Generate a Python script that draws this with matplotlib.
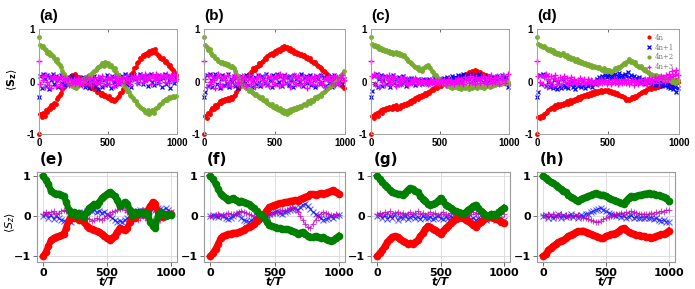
import numpy as np
import matplotlib.pyplot as plt

# time axes
t_top = list(range(0, 1000, 10))
t_bot = list(range(0, 1001, 20))

# ---------------- top row (a)-(d) ----------------
red_a = [-1.0, -0.62, -0.68, -0.6, -0.65, -0.55, -0.58, -0.5, -0.52, -0.45,
         -0.48, -0.4, -0.42, -0.33, -0.3, -0.25, -0.22, -0.15, -0.1, -0.05,
         0.0, 0.05, 0.02, 0.1, 0.12, 0.08, 0.14, 0.1, 0.05, 0.08,
         0.02, 0.04, -0.02, 0.0, -0.05, -0.03, -0.08, -0.06, -0.12, -0.1,
         -0.15, -0.13, -0.2, -0.18, -0.22, -0.25, -0.22, -0.28, -0.26, -0.3,
         -0.32, -0.28, -0.35, -0.33, -0.38, -0.36, -0.33, -0.3, -0.27, -0.22,
         -0.2, -0.15, -0.12, -0.05, -0.02, 0.05, 0.08, 0.15, 0.18, 0.25,
         0.28, 0.35, 0.38, 0.45, 0.42, 0.5, 0.48, 0.52, 0.55, 0.5,
         0.58, 0.55, 0.6, 0.56, 0.62, 0.55, 0.5, 0.48, 0.45, 0.42,
         0.45, 0.38, 0.4, 0.35, 0.3, 0.32, 0.25, 0.22, 0.18, 0.12]
green_a = [0.85, 0.7, 0.65, 0.68, 0.62, 0.6, 0.55, 0.57, 0.5, 0.52,
           0.48, 0.45, 0.4, 0.42, 0.35, 0.32, 0.28, 0.2, 0.15, 0.1,
           0.05, 0.0, -0.05, -0.02, -0.08, -0.1, -0.06, -0.12, -0.08, -0.05,
           -0.02, 0.0, 0.04, 0.02, 0.08, 0.06, 0.12, 0.1, 0.15, 0.18,
           0.2, 0.22, 0.25, 0.28, 0.3, 0.32, 0.35, 0.3, 0.38, 0.33,
           0.35, 0.3, 0.32, 0.28, 0.22, 0.25, 0.18, 0.12, 0.08, 0.02,
           0.0, -0.05, -0.1, -0.12, -0.18, -0.2, -0.25, -0.28, -0.32, -0.35,
           -0.38, -0.42, -0.45, -0.48, -0.5, -0.52, -0.55, -0.58, -0.6, -0.55,
           -0.62, -0.58, -0.55, -0.6, -0.52, -0.5, -0.48, -0.45, -0.42, -0.4,
           -0.38, -0.35, -0.33, -0.36, -0.3, -0.32, -0.3, -0.28, -0.3, -0.27]
blue_a = [-0.3, 0.1, -0.12, 0.15, 0.05, -0.08, 0.12, -0.15, 0.08, 0.02,
          0.14, -0.05, 0.1, 0.03, -0.1, 0.06, 0.12, -0.02, 0.04, -0.06,
          0.08, 0.0, -0.04, 0.05, 0.1, -0.08, 0.02, 0.07, -0.03, 0.04,
          -0.06, 0.03, 0.08, -0.1, 0.05, 0.0, -0.12, 0.06, 0.02, -0.05,
          0.1, -0.08, 0.03, -0.14, 0.05, 0.08, -0.1, 0.02, -0.06, 0.12,
          -0.04, 0.06, -0.12, 0.1, 0.0, -0.08, 0.04, 0.12, -0.05, 0.08,
          0.1, -0.02, 0.14, 0.05, -0.06, 0.1, 0.02, -0.1, 0.06, 0.12,
          0.04, 0.08, -0.03, 0.15, 0.06, -0.05, 0.1, 0.02, 0.12, -0.08,
          0.05, 0.14, 0.0, -0.06, 0.1, 0.08, -0.02, 0.12, 0.04, -0.1,
          0.06, 0.15, -0.04, 0.1, 0.02, -0.12, 0.08, 0.13, -0.02, 0.05]
mag_a = [0.4, -0.05, 0.1, 0.02, -0.1, 0.12, 0.0, -0.06, 0.08, -0.12,
         0.05, 0.1, -0.08, 0.03, 0.06, -0.04, 0.1, -0.1, 0.02, 0.07,
         -0.03, 0.05, -0.06, 0.02, -0.02, 0.04, -0.05, 0.0, 0.06, -0.04,
         0.03, -0.07, 0.02, 0.05, -0.03, 0.08, -0.02, 0.04, -0.06, 0.01,
         0.06, 0.0, -0.05, 0.08, -0.02, 0.04, 0.1, -0.06, 0.05, 0.02,
         0.08, -0.04, 0.06, 0.02, -0.08, 0.1, 0.03, -0.02, 0.07, 0.0,
         0.05, 0.09, -0.03, 0.06, 0.12, 0.02, -0.05, 0.08, 0.04, 0.1,
         0.06, -0.02, 0.1, 0.04, 0.12, 0.0, 0.08, 0.14, 0.03, 0.06,
         0.1, -0.04, 0.12, 0.06, 0.02, 0.15, 0.05, -0.03, 0.1, 0.08,
         0.12, 0.0, 0.08, 0.14, -0.02, 0.06, 0.1, 0.03, 0.15, 0.05]

red_b = [-1.0, -0.65, -0.7, -0.6, -0.62, -0.55, -0.5, -0.52, -0.45, -0.48,
         -0.42, -0.38, -0.4, -0.35, -0.38, -0.33, -0.36, -0.32, -0.35, -0.3,
         -0.33, -0.28, -0.25, -0.2, -0.15, -0.1, -0.05, 0.0, 0.03, 0.08,
         0.1, 0.12, 0.15, 0.18, 0.2, 0.25, 0.22, 0.28, 0.3, 0.35,
         0.32, 0.38, 0.4, 0.45, 0.42, 0.48, 0.5, 0.52, 0.55, 0.5,
         0.58, 0.55, 0.6, 0.62, 0.58, 0.65, 0.62, 0.68, 0.64, 0.66,
         0.6, 0.63, 0.58, 0.6, 0.55, 0.57, 0.52, 0.55, 0.5, 0.53,
         0.48, 0.5, 0.45, 0.47, 0.42, 0.44, 0.4, 0.38, 0.35, 0.37,
         0.32, 0.3, 0.28, 0.25, 0.22, 0.2, 0.18, 0.15, 0.12, 0.1,
         0.08, 0.05, 0.06, 0.02, 0.0, 0.03, -0.02, -0.05, -0.08, -0.12]
green_b = [0.85, 0.7, 0.65, 0.6, 0.62, 0.55, 0.5, 0.48, 0.45, 0.42,
           0.4, 0.38, 0.35, 0.37, 0.33, 0.35, 0.32, 0.34, 0.3, 0.28,
           0.3, 0.25, 0.2, 0.15, 0.1, 0.05, 0.0, -0.05, -0.08, -0.1,
           -0.12, -0.15, -0.18, -0.16, -0.2, -0.22, -0.25, -0.23, -0.28, -0.3,
           -0.32, -0.3, -0.35, -0.38, -0.36, -0.4, -0.42, -0.45, -0.43, -0.48,
           -0.5, -0.47, -0.52, -0.55, -0.5, -0.58, -0.55, -0.6, -0.57, -0.62,
           -0.55, -0.58, -0.52, -0.55, -0.5, -0.53, -0.48, -0.5, -0.46, -0.48,
           -0.45, -0.42, -0.44, -0.4, -0.38, -0.4, -0.35, -0.37, -0.33, -0.3,
           -0.32, -0.28, -0.25, -0.27, -0.22, -0.2, -0.18, -0.15, -0.12, -0.1,
           -0.08, -0.05, -0.06, 0.0, 0.02, 0.05, 0.08, 0.1, 0.15, 0.2]
blue_b = [-0.3, -0.2, 0.12, -0.08, 0.15, 0.02, -0.1, 0.08, 0.14, -0.05,
          0.1, -0.12, 0.04, 0.12, -0.06, 0.08, -0.02, 0.15, -0.1, 0.05,
          0.0, 0.1, -0.08, 0.06, -0.12, 0.03, 0.1, -0.05, 0.07, -0.02,
          0.12, -0.06, 0.04, 0.1, -0.1, 0.02, 0.08, -0.04, 0.12, 0.0,
          -0.08, 0.1, 0.05, -0.03, 0.14, -0.06, 0.08, 0.02, -0.1, 0.12,
          0.06, -0.04, 0.15, 0.0, 0.1, -0.08, 0.05, 0.12, -0.02, 0.08,
          -0.06, 0.1, 0.03, -0.1, 0.12, 0.05, -0.04, 0.08, 0.0, 0.14,
          -0.08, 0.06, 0.1, -0.02, 0.04, 0.12, -0.06, 0.08, 0.02, -0.1,
          0.1, 0.04, -0.05, 0.12, 0.0, 0.08, -0.08, 0.05, 0.1, -0.03,
          0.06, -0.1, 0.12, 0.02, -0.05, 0.08, 0.0, 0.1, -0.04, 0.05]
mag_b = [0.4, 0.05, -0.1, 0.12, 0.0, -0.05, 0.1, 0.02, -0.12, 0.08,
         0.15, -0.04, 0.06, -0.1, 0.1, 0.03, -0.06, 0.12, 0.0, -0.08,
         0.05, 0.1, -0.03, 0.08, 0.0, -0.06, 0.04, 0.1, -0.02, 0.06,
         -0.08, 0.03, 0.12, -0.04, 0.07, 0.0, -0.1, 0.05, 0.1, -0.03,
         0.08, -0.06, 0.02, 0.12, -0.02, 0.06, -0.08, 0.1, 0.0, 0.05,
         -0.04, 0.1, 0.06, -0.08, 0.14, 0.02, -0.05, 0.08, 0.12, -0.02,
         0.05, -0.1, 0.08, 0.0, 0.12, -0.04, 0.06, 0.1, -0.06, 0.03,
         0.1, -0.02, 0.05, -0.12, 0.08, 0.0, 0.06, -0.05, 0.1, 0.02,
         -0.06, 0.08, 0.0, 0.12, -0.04, 0.05, -0.1, 0.06, 0.02, 0.1,
         -0.03, 0.05, 0.1, -0.06, 0.08, 0.0, -0.04, 0.06, 0.12, 0.02]

red_c = [-1.0, -0.65, -0.7, -0.62, -0.6, -0.65, -0.58, -0.55, -0.6, -0.52,
         -0.55, -0.5, -0.53, -0.48, -0.5, -0.52, -0.47, -0.5, -0.45, -0.52,
         -0.48, -0.5, -0.45, -0.47, -0.42, -0.45, -0.4, -0.42, -0.38, -0.4,
         -0.35, -0.38, -0.32, -0.3, -0.33, -0.28, -0.3, -0.25, -0.27, -0.22,
         -0.25, -0.2, -0.22, -0.18, -0.15, -0.17, -0.12, -0.1, -0.12, -0.08,
         -0.05, -0.08, -0.03, -0.05, 0.0, -0.02, 0.02, 0.0, 0.03, 0.05,
         0.02, 0.06, 0.04, 0.08, 0.05, 0.1, 0.08, 0.12, 0.1, 0.15,
         0.12, 0.18, 0.15, 0.2, 0.16, 0.22, 0.18, 0.2, 0.15, 0.18,
         0.12, 0.15, 0.1, 0.12, 0.08, 0.1, 0.05, 0.08, 0.03, 0.05,
         0.0, 0.03, -0.02, 0.02, 0.0, 0.04, -0.03, 0.01, 0.02, -0.02]
green_c = [0.85, 0.72, 0.68, 0.7, 0.65, 0.67, 0.62, 0.64, 0.6, 0.62,
           0.58, 0.6, 0.56, 0.58, 0.55, 0.57, 0.53, 0.55, 0.57, 0.52,
           0.55, 0.5, 0.52, 0.48, 0.5, 0.45, 0.42, 0.4, 0.38, 0.35,
           0.33, 0.3, 0.28, 0.25, 0.27, 0.22, 0.24, 0.2, 0.25, 0.28,
           0.3, 0.32, 0.28, 0.25, 0.2, 0.18, 0.15, 0.12, 0.08, 0.05,
           0.02, 0.0, -0.03, -0.05, -0.02, -0.08, -0.05, -0.1, -0.06, -0.12,
           -0.08, -0.1, -0.05, -0.12, -0.08, -0.15, -0.1, -0.06, -0.12, -0.08,
           -0.1, -0.14, -0.08, -0.12, -0.05, -0.1, -0.07, -0.13, -0.09, -0.06,
           -0.1, -0.08, -0.12, -0.05, -0.09, -0.06, -0.1, -0.04, -0.08, -0.03,
           -0.06, -0.02, -0.05, 0.0, -0.04, 0.02, -0.03, 0.01, -0.02, 0.0]
blue_c = [-0.3, -0.18, 0.1, -0.05, 0.15, -0.1, 0.05, 0.12, -0.08, 0.02,
          0.1, -0.04, 0.08, 0.0, -0.1, 0.06, 0.12, -0.02, 0.04, -0.06,
          0.08, 0.02, -0.05, 0.1, 0.0, -0.08, 0.05, 0.02, -0.03, 0.06,
          0.0, 0.04, -0.06, 0.02, 0.05, -0.02, 0.03, -0.05, 0.04, 0.0,
          0.02, -0.04, 0.05, 0.0, 0.03, -0.02, 0.06, 0.01, -0.03, 0.04,
          0.02, 0.05, -0.02, 0.06, 0.0, 0.08, 0.03, -0.02, 0.06, 0.1,
          0.04, 0.08, 0.0, 0.12, 0.05, 0.1, 0.02, 0.14, 0.06, 0.1,
          0.12, 0.05, 0.15, 0.08, 0.1, 0.02, 0.12, 0.06, 0.14, 0.04,
          0.1, 0.0, 0.08, 0.05, -0.02, 0.1, 0.03, 0.06, -0.04, 0.08,
          0.02, 0.1, -0.05, 0.05, 0.0, 0.12, -0.02, 0.06, 0.08, -0.1]
mag_c = [0.4, 0.1, 0.15, -0.05, 0.08, 0.12, -0.1, 0.05, 0.0, 0.1,
         -0.06, 0.08, 0.02, 0.12, -0.04, 0.06, 0.0, 0.1, -0.08, 0.04,
         0.0, 0.06, -0.04, 0.02, 0.08, -0.02, 0.04, -0.06, 0.0, 0.05,
         -0.03, 0.02, 0.06, -0.05, 0.0, 0.03, -0.04, 0.02, 0.0, -0.02,
         0.03, -0.04, 0.0, 0.02, -0.03, 0.04, -0.02, 0.0, 0.03, -0.05,
         0.0, 0.04, -0.02, 0.02, -0.06, 0.0, 0.05, -0.03, 0.02, 0.0,
         -0.04, 0.03, 0.0, 0.06, -0.02, 0.04, 0.0, -0.05, 0.08, 0.02,
         0.05, -0.03, 0.1, 0.0, 0.06, -0.04, 0.08, 0.02, 0.04, -0.02,
         0.06, 0.1, 0.0, 0.05, -0.05, 0.08, 0.02, 0.12, -0.03, 0.06,
         0.0, 0.1, 0.04, -0.04, 0.08, 0.02, 0.12, -0.02, 0.05, 0.15]

red_d = [-1.0, -0.68, -0.7, -0.65, -0.68, -0.62, -0.6, -0.58, -0.55, -0.52,
         -0.5, -0.48, -0.52, -0.45, -0.48, -0.43, -0.46, -0.42, -0.45, -0.4,
         -0.43, -0.38, -0.42, -0.36, -0.4, -0.35, -0.38, -0.33, -0.36, -0.3,
         -0.33, -0.28, -0.3, -0.26, -0.28, -0.24, -0.27, -0.22, -0.25, -0.2,
         -0.23, -0.19, -0.22, -0.18, -0.2, -0.17, -0.2, -0.18, -0.16, -0.19,
         -0.17, -0.2, -0.18, -0.22, -0.2, -0.24, -0.22, -0.26, -0.25, -0.28,
         -0.27, -0.3, -0.32, -0.35, -0.33, -0.36, -0.34, -0.3, -0.32, -0.28,
         -0.3, -0.26, -0.24, -0.22, -0.2, -0.18, -0.2, -0.16, -0.15, -0.13,
         -0.15, -0.12, -0.1, -0.12, -0.08, -0.1, -0.06, -0.08, -0.05, -0.07,
         -0.04, -0.06, -0.03, -0.05, -0.02, -0.04, 0.0, -0.02, 0.02, 0.0]
green_d = [0.85, 0.72, 0.7, 0.68, 0.66, 0.68, 0.64, 0.62, 0.6, 0.62,
           0.58, 0.6, 0.55, 0.57, 0.53, 0.55, 0.5, 0.52, 0.55, 0.5,
           0.48, 0.5, 0.45, 0.47, 0.43, 0.45, 0.42, 0.4, 0.42, 0.38,
           0.4, 0.36, 0.38, 0.34, 0.35, 0.32, 0.34, 0.3, 0.32, 0.28,
           0.3, 0.27, 0.28, 0.25, 0.27, 0.24, 0.22, 0.25, 0.2, 0.22,
           0.2, 0.22, 0.18, 0.2, 0.22, 0.25, 0.23, 0.28, 0.26, 0.3,
           0.32, 0.35, 0.33, 0.38, 0.4, 0.42, 0.38, 0.4, 0.35, 0.37,
           0.32, 0.3, 0.28, 0.3, 0.25, 0.22, 0.24, 0.2, 0.18, 0.16,
           0.15, 0.13, 0.12, 0.1, 0.12, 0.08, 0.1, 0.06, 0.08, 0.05,
           0.06, 0.03, 0.05, 0.02, 0.04, 0.0, 0.02, -0.02, 0.0, 0.02]
blue_d = [-0.3, -0.2, 0.12, -0.05, 0.15, 0.1, -0.08, 0.12, 0.0, -0.1,
          -0.05, -0.12, 0.02, -0.1, -0.15, 0.0, -0.08, -0.12, 0.05, -0.06,
          -0.1, -0.02, -0.12, -0.05, 0.0, -0.1, -0.06, -0.14, -0.02, -0.08,
          -0.05, -0.1, 0.0, -0.06, -0.12, -0.02, -0.08, 0.02, -0.05, -0.1,
          0.0, -0.04, 0.05, -0.02, 0.08, 0.02, 0.1, 0.05, 0.12, 0.08,
          0.1, 0.15, 0.06, 0.12, 0.08, 0.14, 0.05, 0.1, 0.16, 0.08,
          0.12, 0.06, 0.15, 0.1, 0.18, 0.08, 0.12, 0.05, 0.1, 0.02,
          0.06, 0.0, 0.08, -0.02, 0.04, 0.0, -0.05, 0.03, -0.02, 0.05,
          0.0, -0.04, 0.02, -0.06, 0.0, -0.02, -0.05, 0.02, -0.08, -0.03,
          -0.06, 0.0, -0.1, -0.05, -0.12, -0.08, -0.15, -0.1, -0.2, -0.12]
mag_d = [0.4, 0.1, 0.0, 0.12, -0.05, 0.08, 0.15, -0.1, 0.05, 0.0,
         0.1, -0.08, 0.06, 0.12, -0.04, 0.02, 0.08, -0.06, 0.04, 0.1,
         0.0, 0.06, -0.04, 0.02, 0.08, -0.02, 0.05, 0.0, -0.05, 0.03,
         0.06, -0.02, 0.02, 0.04, -0.04, 0.0, 0.05, -0.03, 0.02, 0.0,
         -0.02, 0.03, 0.0, -0.04, 0.02, 0.05, -0.02, 0.0, 0.03, -0.05,
         0.0, 0.02, -0.04, 0.0, 0.04, -0.02, 0.02, -0.05, 0.0, 0.03,
         -0.03, 0.0, 0.05, -0.02, 0.02, -0.04, 0.0, 0.03, -0.06, 0.02,
         0.0, -0.04, 0.02, 0.05, -0.02, 0.0, 0.04, -0.05, 0.02, 0.06,
         0.0, 0.04, -0.03, 0.08, 0.02, 0.06, -0.02, 0.1, 0.04, 0.08,
         0.0, 0.12, 0.05, 0.15, 0.08, 0.2, 0.1, 0.15, 0.22, 0.12]

# ---------------- bottom row (e)-(h) ----------------
red_e = [-1.0, -0.9, -0.75, -0.6, -0.55, -0.52, -0.5, -0.48, -0.45, -0.3,
         -0.1, 0.0, -0.05, 0.05, -0.1, -0.05, -0.15, -0.25, -0.3, -0.32,
         -0.35, -0.38, -0.4, -0.45, -0.5, -0.55, -0.6, -0.55, -0.5, -0.4,
         -0.3, -0.32, -0.35, -0.3, -0.15, 0.0, -0.05, 0.05, 0.1, 0.05,
         0.1, 0.15, 0.25, 0.35, 0.3, 0.1, 0.0, -0.02, 0.05, 0.02, 0.05]
green_e = [1.0, 0.9, 0.8, 0.62, 0.58, 0.55, 0.56, 0.52, 0.5, 0.35,
           0.15, 0.05, 0.1, 0.0, 0.08, 0.02, -0.02, 0.1, 0.2, 0.25,
           0.3, 0.28, 0.35, 0.45, 0.5, 0.55, 0.6, 0.55, 0.5, 0.4,
           0.25, 0.3, 0.35, 0.3, 0.15, 0.0, 0.1, 0.05, 0.1, 0.08,
           0.1, 0.05, -0.15, -0.25, -0.3, 0.0, 0.1, 0.05, 0.0, 0.05, 0.02]
blue_e = [0.0, 0.05, -0.05, 0.02, -0.08, 0.0, -0.05, -0.1, -0.12, -0.15,
          -0.12, -0.15, -0.05, 0.0, 0.05, 0.08, 0.1, 0.12, 0.15, 0.12,
          0.15, 0.1, 0.12, 0.08, 0.1, 0.05, 0.0, -0.05, -0.1, -0.15,
          -0.12, -0.15, -0.1, -0.05, 0.0, 0.05, 0.1, 0.12, 0.15, 0.1,
          0.15, 0.12, 0.2, 0.18, 0.15, 0.2, 0.18, 0.15, 0.2, 0.15, 0.1]
mag_e = [0.05, 0.1, 0.05, 0.1, 0.12, 0.05, 0.08, 0.12, 0.15, 0.12,
         0.1, 0.05, 0.02, -0.05, -0.1, -0.12, -0.1, -0.05, -0.08, -0.12,
         -0.1, -0.05, -0.08, -0.1, -0.05, 0.0, 0.05, 0.1, 0.12, 0.15,
         0.18, 0.2, 0.15, 0.1, 0.05, 0.0, -0.05, -0.1, -0.05, 0.0,
         -0.05, -0.1, -0.15, -0.1, -0.12, -0.08, -0.1, -0.05, 0.0, 0.05, 0.08]

red_f = [-1.0, -0.92, -0.82, -0.7, -0.55, -0.5, -0.48, -0.45, -0.44, -0.42,
         -0.42, -0.4, -0.38, -0.35, -0.3, -0.28, -0.25, -0.2, -0.13, -0.08,
         0.0, 0.06, 0.15, 0.22, 0.25, 0.28, 0.3, 0.32, 0.32, 0.35,
         0.35, 0.37, 0.38, 0.4, 0.38, 0.42, 0.45, 0.48, 0.5, 0.55,
         0.55, 0.52, 0.55, 0.57, 0.55, 0.58, 0.6, 0.62, 0.65, 0.6, 0.56]
green_f = [1.0, 0.92, 0.8, 0.68, 0.55, 0.5, 0.45, 0.4, 0.42, 0.45,
           0.4, 0.36, 0.38, 0.34, 0.32, 0.3, 0.25, 0.2, 0.12, 0.06,
           0.02, -0.05, -0.15, -0.22, -0.26, -0.28, -0.3, -0.3, -0.32, -0.33,
           -0.33, -0.35, -0.38, -0.4, -0.45, -0.42, -0.4, -0.45, -0.5, -0.52,
           -0.53, -0.5, -0.52, -0.55, -0.53, -0.57, -0.6, -0.62, -0.6, -0.55, -0.5]
blue_f = [0.0, 0.02, 0.0, -0.03, 0.02, 0.0, -0.05, -0.08, -0.05, 0.0,
          0.05, 0.08, -0.05, -0.1, -0.12, -0.15, -0.1, -0.05, 0.0, 0.02,
          0.0, -0.02, 0.0, 0.05, 0.08, 0.1, 0.12, 0.08, 0.05, 0.1,
          0.12, 0.15, 0.18, 0.2, 0.15, 0.22, 0.28, 0.3, 0.25, 0.18,
          0.1, 0.05, 0.0, -0.05, -0.1, -0.08, -0.05, 0.0, -0.05, 0.0, 0.02]
mag_f = [0.0, -0.02, 0.02, 0.05, 0.0, 0.02, 0.05, 0.08, 0.05, 0.02,
         0.06, 0.1, 0.12, 0.1, 0.08, 0.05, 0.02, 0.0, -0.02, 0.0,
         0.02, 0.0, -0.03, 0.02, 0.05, 0.08, 0.1, 0.12, 0.15, 0.12,
         0.15, 0.2, 0.22, 0.18, 0.1, 0.0, -0.1, -0.2, -0.28, -0.3,
         -0.2, -0.1, 0.0, 0.05, 0.1, 0.08, 0.05, 0.02, 0.0, 0.05, 0.03]

red_g = [-1.0, -0.92, -0.85, -0.75, -0.65, -0.58, -0.52, -0.5, -0.52, -0.58,
         -0.62, -0.66, -0.7, -0.68, -0.7, -0.66, -0.6, -0.5, -0.42, -0.32,
         -0.25, -0.28, -0.32, -0.35, -0.4, -0.45, -0.38, -0.3, -0.25, -0.18,
         -0.12, -0.08, -0.05, -0.03, -0.06, -0.1, -0.12, -0.18, -0.22, -0.27,
         -0.2, -0.14, -0.1, -0.05, 0.0, -0.03, -0.05, -0.08, -0.1, -0.14, -0.17]
green_g = [1.0, 0.92, 0.85, 0.78, 0.72, 0.65, 0.6, 0.57, 0.55, 0.55,
           0.53, 0.58, 0.65, 0.7, 0.68, 0.62, 0.6, 0.5, 0.42, 0.38,
           0.3, 0.27, 0.3, 0.32, 0.38, 0.45, 0.38, 0.28, 0.24, 0.2,
           0.16, 0.12, 0.1, 0.08, 0.05, 0.1, 0.16, 0.2, 0.25, 0.28,
           0.2, 0.12, 0.08, 0.02, 0.0, 0.05, 0.04, 0.02, 0.1, 0.15, 0.2]
blue_g = [0.0, 0.03, -0.05, 0.02, -0.08, 0.0, -0.06, 0.04, -0.1, -0.02,
          -0.05, 0.02, -0.08, -0.03, 0.0, -0.06, -0.02, -0.08, 0.0, -0.04,
          -0.06, -0.02, -0.08, -0.04, 0.0, -0.05, -0.08, -0.03, -0.06, -0.02,
          -0.05, 0.0, -0.04, -0.08, -0.02, -0.06, -0.03, -0.08, -0.05, -0.1,
          -0.06, -0.08, -0.04, -0.1, -0.06, -0.08, -0.05, -0.1, -0.07, -0.08, -0.1]
mag_g = [0.05, 0.08, 0.02, 0.1, 0.05, 0.12, 0.03, 0.08, 0.1, 0.05,
         0.08, 0.02, 0.06, 0.1, 0.04, 0.08, 0.12, 0.05, 0.08, 0.03,
         0.06, 0.1, 0.04, 0.08, 0.02, 0.06, 0.1, 0.05, 0.03, 0.08,
         0.05, 0.02, 0.06, 0.1, 0.04, 0.08, 0.03, 0.06, 0.1, 0.05,
         0.08, 0.04, 0.1, 0.06, 0.02, 0.08, 0.05, 0.1, 0.06, 0.08, 0.05]

red_h = [-1.0, -0.95, -0.85, -0.8, -0.75, -0.7, -0.66, -0.62, -0.6, -0.56,
         -0.5, -0.47, -0.44, -0.4, -0.38, -0.38, -0.37, -0.4, -0.42, -0.45,
         -0.48, -0.5, -0.53, -0.56, -0.55, -0.5, -0.48, -0.46, -0.44, -0.42,
         -0.38, -0.33, -0.3, -0.35, -0.4, -0.42, -0.45, -0.47, -0.48, -0.5,
         -0.5, -0.52, -0.53, -0.55, -0.53, -0.5, -0.48, -0.46, -0.45, -0.42, -0.37]
green_h = [1.0, 0.95, 0.9, 0.85, 0.82, 0.78, 0.72, 0.68, 0.63, 0.6,
           0.52, 0.48, 0.44, 0.4, 0.38, 0.42, 0.45, 0.47, 0.5, 0.52,
           0.55, 0.57, 0.55, 0.52, 0.53, 0.5, 0.45, 0.42, 0.4, 0.38,
           0.35, 0.32, 0.3, 0.38, 0.45, 0.5, 0.48, 0.5, 0.52, 0.53,
           0.55, 0.56, 0.57, 0.55, 0.56, 0.53, 0.52, 0.5, 0.48, 0.45, 0.37]
blue_h = [0.0, 0.03, -0.04, 0.02, -0.06, 0.0, 0.04, -0.05, 0.02, -0.03,
          0.0, 0.05, -0.02, 0.03, -0.05, 0.02, 0.0, 0.06, 0.05, 0.1,
          0.12, 0.15, 0.18, 0.2, 0.15, 0.12, 0.08, 0.05, 0.02, 0.0,
          0.03, -0.02, 0.0, -0.04, -0.02, 0.02, -0.05, -0.03, -0.06, -0.04,
          -0.05, -0.02, -0.06, -0.04, -0.08, -0.06, -0.1, -0.12, -0.1, -0.14, -0.15]
mag_h = [0.03, -0.02, 0.05, 0.0, 0.04, -0.03, 0.02, 0.05, -0.02, 0.03,
         0.0, -0.03, 0.02, 0.0, 0.03, -0.02, -0.04, -0.06, -0.08, -0.1,
         -0.12, -0.15, -0.14, -0.12, -0.08, -0.05, -0.02, 0.0, 0.03, 0.05,
         0.05, 0.08, 0.06, 0.1, 0.08, 0.12, 0.1, 0.08, 0.06, 0.05,
         0.06, 0.04, 0.05, 0.08, 0.06, 0.1, 0.08, 0.12, 0.1, 0.14, 0.15]

top_labels = ["(a)", "(b)", "(c)", "(d)"]
bot_labels = ["(e)", "(f)", "(g)", "(h)"]
legend_labels = ["4n", "4n+1", "4n+2", "4n+3"]

top_sets = [(red_a, blue_a, green_a, mag_a), (red_b, blue_b, green_b, mag_b),
            (red_c, blue_c, green_c, mag_c), (red_d, blue_d, green_d, mag_d)]
bot_sets = [(red_e, blue_e, green_e, mag_e), (red_f, blue_f, green_f, mag_f),
            (red_g, blue_g, green_g, mag_g), (red_h, blue_h, green_h, mag_h)]

fig = plt.figure(figsize=(6.95, 2.89), dpi=100)
W, H = 695.0, 289.0
top_x = [(39, 177), (204, 345), (371, 509), (537, 679)]
bot_x = [(37, 177), (204, 345), (371, 510), (537, 675)]

mgreen = "#77ac30"
for i, (x0, x1) in enumerate(top_x):
    ax = fig.add_axes([x0 / W, 1 - 134 / H, (x1 - x0) / W, 105 / H])
    r, b, g, m = top_sets[i]
    ax.plot(t_top, r, ".", color="red", ms=5, label=legend_labels[0], clip_on=False)
    ax.plot(t_top, b, "x", color="blue", ms=3, mew=0.9, label=legend_labels[1], clip_on=False)
    ax.plot(t_top, g, ".", color=mgreen, ms=5, label=legend_labels[2], clip_on=False)
    ax.plot(t_top, m, "+", color="magenta", ms=4, mew=1.0, label=legend_labels[3], clip_on=False)
    ax.set_xlim(0, 1000)
    ax.set_ylim(-1, 1)
    ax.set_xticks([0, 500, 1000])
    ax.set_yticks([-1, 0, 1])
    ax.set_xticklabels(["0", "500", "1000"])
    ax.set_yticklabels(["-1", "0", "1"])
    ax.tick_params(direction="in", length=2, width=0.6, top=True, right=True,
                   labelsize=7, pad=3, color="#555555")
    for lab in ax.get_xticklabels() + ax.get_yticklabels():
        lab.set_fontweight("bold")
        lab.set_family("Liberation Sans")
    for sp in ax.spines.values():
        sp.set_color("#a0a0a0")
        sp.set_linewidth(0.7)
    ax.text(0.0, 1.06, top_labels[i], transform=ax.transAxes, fontsize=11,
            fontweight="bold", family="Liberation Sans", va="bottom", ha="left")
    if i == 3:
        leg = ax.legend(loc="upper right", frameon=False,
                        prop={"family": "DejaVu Serif", "size": 5},
                        handlelength=1.0, handletextpad=0.4, labelspacing=0.25,
                        borderaxespad=0.3, markerscale=0.8)
        for txt in leg.get_texts():
            txt.set_color("#777777")

for i, (x0, x1) in enumerate(bot_x):
    ax = fig.add_axes([x0 / W, 1 - 262 / H, (x1 - x0) / W, 90 / H])
    r, b, g, m = bot_sets[i]
    ax.plot(t_bot, b, "-x", color="blue", lw=0.7, ms=4, mew=0.8, alpha=0.6)
    ax.plot(t_bot, m, "-+", color="m", lw=0.7, ms=4, mew=0.8, alpha=0.7)
    ax.plot(t_bot, r, "-o", color="red", lw=4.5, ms=4.5)
    ax.plot(t_bot, g, "-o", color="green", lw=4.5, ms=4.5)
    ax.set_xlim(-50, 1050)
    ax.set_ylim(-1.15, 1.1)
    ax.set_xticks([0, 500, 1000])
    ax.set_yticks([-1, 0, 1])
    ax.grid(True, color="#dddddd", lw=0.7)
    ax.set_axisbelow(True)
    ax.tick_params(length=3, width=0.6, labelsize=8, pad=1.5, color="#555555")
    for lab in ax.get_xticklabels() + ax.get_yticklabels():
        lab.set_fontweight("bold")
    for sp in ax.spines.values():
        sp.set_color("#999999")
        sp.set_linewidth(0.8)
    ax.set_xlabel("t/T", fontsize=8, fontweight="bold", fontstyle="italic", labelpad=-1)
    ax.text(0.02, 1.06, bot_labels[i], transform=ax.transAxes, fontsize=11,
            fontweight="bold", va="bottom", ha="left")

fig.text(12 / W, 1 - 80 / H, r"$\langle \mathbf{S_z} \rangle$", rotation=90,
         fontsize=8, ha="center", va="center")
fig.text(10 / W, 1 - 222 / H, r"$\langle S_z \rangle$", rotation=90,
         fontsize=8, ha="center", va="center")

fig.savefig("out.png", dpi=100)
